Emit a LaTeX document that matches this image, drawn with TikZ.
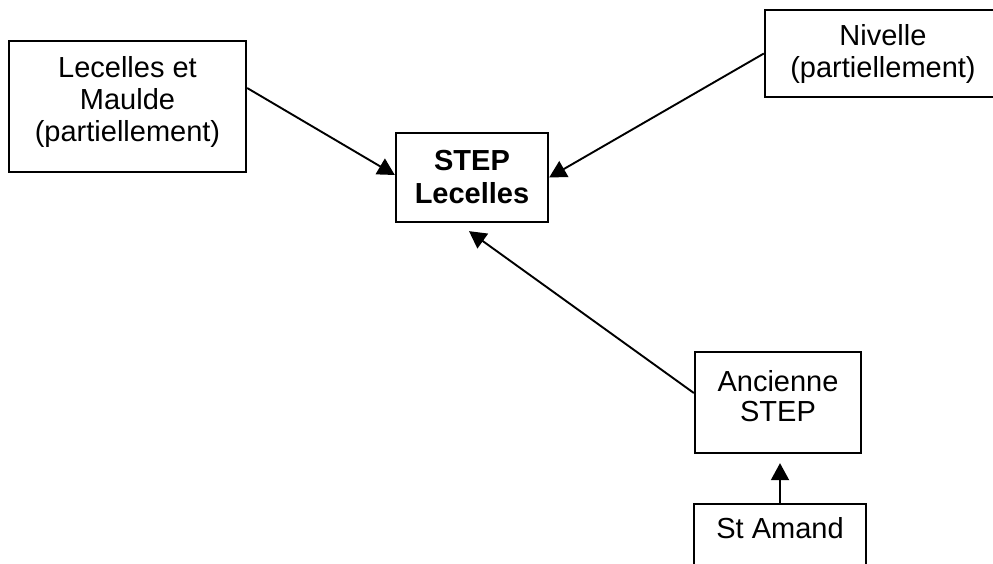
\documentclass[tikz,border=0pt]{standalone}
\usepackage{fontspec}
\setmainfont{Liberation Sans}
\usetikzlibrary{calc,arrows.meta}
\newcommand{\dropby}[1]{\rule[-#1]{0pt}{#1}}
\begin{document}
\begin{tikzpicture}[x=1pt,y=-1pt,
  box/.style={draw=black,line width=2.3pt,inner sep=0pt,align=center,
    font=\fontsize{29}{32}\selectfont},
  flow/.style={draw=black,line width=1.9pt,-{Triangle[length=17pt,width=18pt]}}]
\useasboundingbox (0,0) rectangle (993,563);
\clip (0,0) rectangle (993,563);
\node[box,minimum width=237pt,minimum height=131pt] (b1) at (127.5,106.5)
  {Lecelles et\\Maulde\\(partiellement)\dropby{16pt}};
\node[box,minimum width=236pt,minimum height=87pt] (b2) at (883,53.5)
  {Nivelle\\(partiellement)};
\node[box,minimum width=152pt,minimum height=89pt,
  font=\fontsize{29}{33}\selectfont\bfseries] (c) at (472,177.5)
  {STEP\\Lecelles};
\node[box,minimum width=166pt,minimum height=101pt,
  font=\fontsize{29}{30}\selectfont] (a) at (778,402.5)
  {Ancienne\\STEP\dropby{14pt}};
\node[box,minimum width=172pt,text height=34pt,text depth=53pt,anchor=north] (sa)
  at (780,503) {St Amand};
\draw[flow] ($(b1.east)+(0,-18.5)$) -- ($(c.west)+(0,-2.5)$);
\draw[flow] (b2.west) -- (c.east);
\draw[flow] ($(a.west)+(0,-9.5)$) -- ($(c.south)+(-3,8)$);
\draw[flow] (sa.north) -- ($(a.south)+(2,9)$);
\end{tikzpicture}
\end{document}
